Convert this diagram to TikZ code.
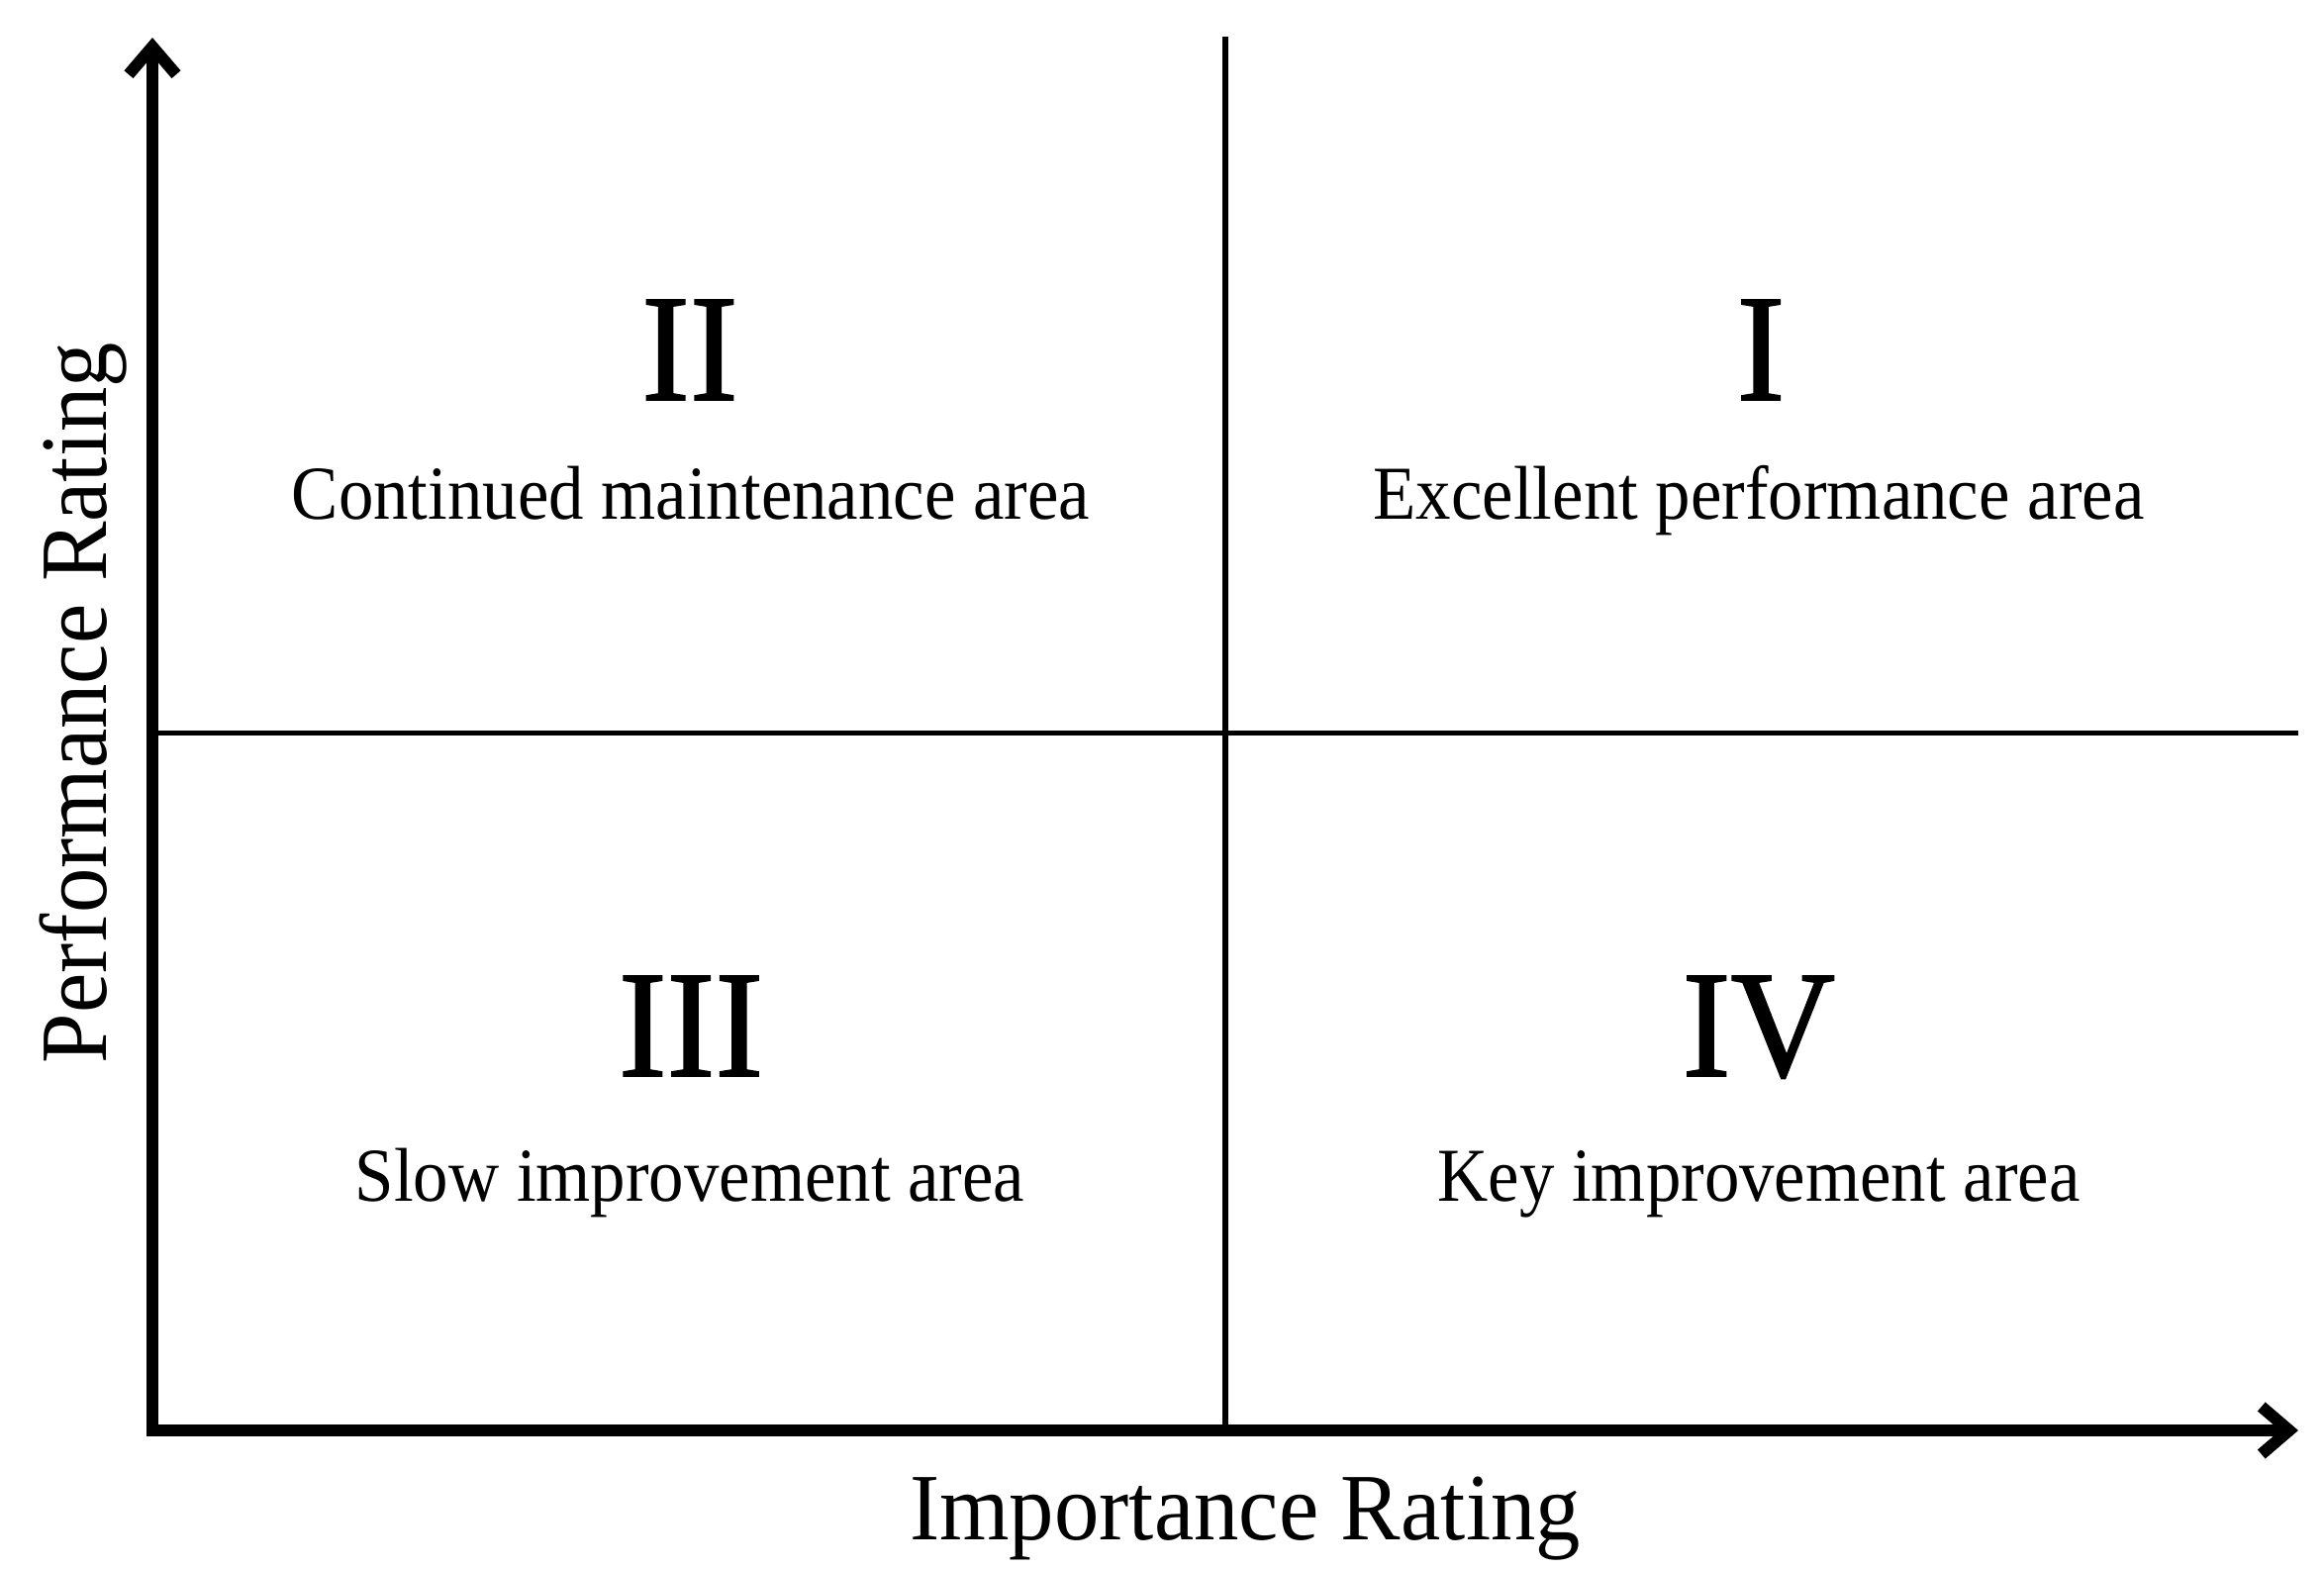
\documentclass[tikz,border=0pt]{standalone}
\usepackage{fontspec}
\usepackage{graphicx}
\setmainfont{Liberation Serif}
\newfontfamily\numeralfont{Liberation Serif}[FakeBold=1.2]
\usetikzlibrary{arrows.meta}
\newcommand\narrowtxt[2]{\scalebox{#1}[1]{#2}}
\begin{document}
\begin{tikzpicture}[x=0.25pt,y=-0.25pt,
  axisline/.style={line width=3pt,
    {Straight Barb[length=7pt,width=12pt]}-{Straight Barb[length=7pt,width=12pt]}},
  divider/.style={line width=1.4pt},
  numeral/.style={font=\numeralfont\fontsize{38.5}{40}\selectfont, anchor=base, inner sep=0pt},
  arealabel/.style={font=\fontsize{19.25}{21}\selectfont, anchor=base, inner sep=0pt},
  axislabel/.style={font=\fontsize{24}{26}\selectfont, anchor=base, inner sep=0pt}]
\fill[white] (0,0) rectangle (2348,1586);
\useasboundingbox (0,0) rectangle (2348,1586);
\coordinate (O) at (154,1445);
\coordinate (Ytop) at (154,38);
\coordinate (Xend) at (2322,1445);
\coordinate (Vtop) at (1238,37);
\coordinate (Vbot) at (1238,1445);
\coordinate (Hl) at (154,740.5);
\coordinate (Hr) at (2322,740.5);
\draw[divider] (Vtop) -- (Vbot);
\draw[divider] (Hl) -- (Hr);
\draw[axisline] (Ytop) -- (O) -- (Xend);
\node[numeral] (n2) at (697,404) {\narrowtxt{0.95}{II}};
\node[numeral] (n1) at (1779,404) {\narrowtxt{0.95}{I}};
\node[numeral] (n3) at (698,1087) {\narrowtxt{0.95}{III}};
\node[numeral] (n4) at (1777,1087) {\narrowtxt{0.95}{IV}};
\node[arealabel] (l2) at (698,524) {\narrowtxt{0.92}{Continued maintenance area}};
\node[arealabel] (l1) at (1777,524) {\narrowtxt{0.92}{Excellent performance area}};
\node[arealabel] (l3) at (697,1213) {\narrowtxt{0.92}{Slow improvement area}};
\node[arealabel] (l4) at (1777,1213) {\narrowtxt{0.92}{Key improvement area}};
\node[axislabel] (xl) at (1258,1555) {\narrowtxt{0.945}{Importance Rating}};
\node[axislabel, rotate=90] (yl) at (108,710) {\narrowtxt{0.945}{Performance Rating}};
\end{tikzpicture}
\end{document}
